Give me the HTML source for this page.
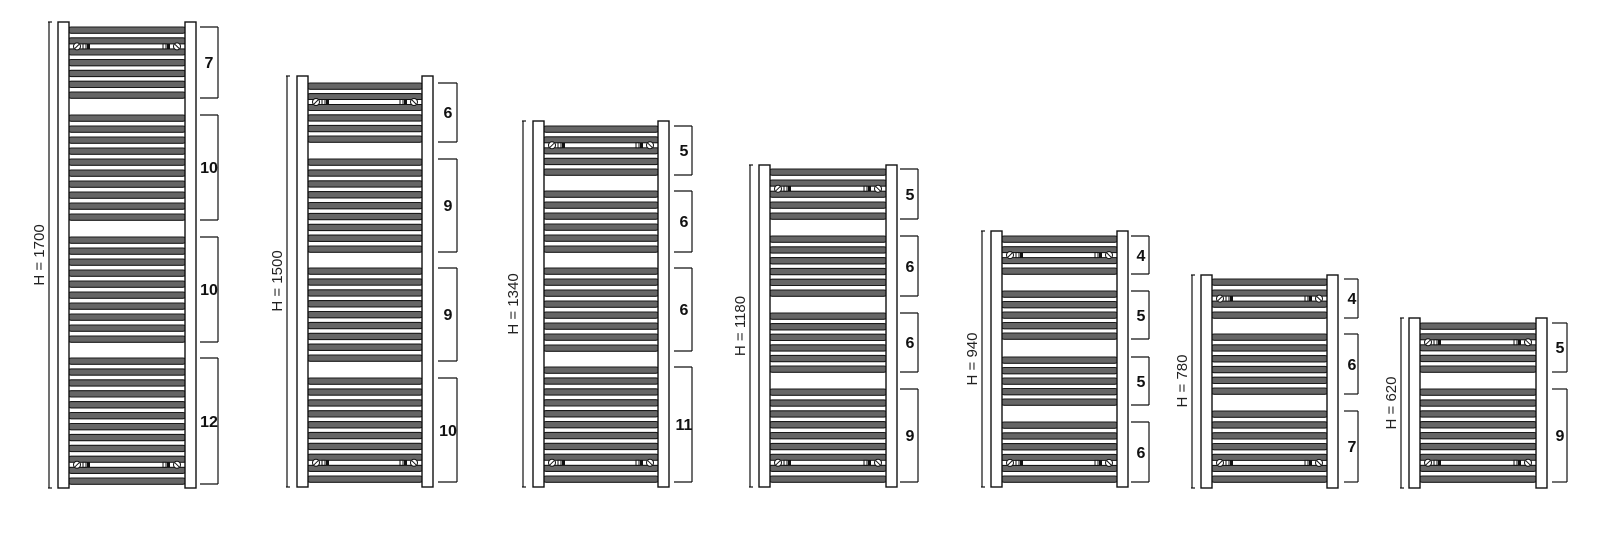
<!DOCTYPE html>
<html><head><meta charset="utf-8"><style>
html,body{margin:0;padding:0;background:#fff;}
svg{display:block;}
.n{font-family:"Liberation Sans",sans-serif;font-weight:bold;font-size:16px;fill:#111;text-anchor:middle;}
.h{font-family:"Liberation Sans",sans-serif;font-size:15px;fill:#222;text-anchor:middle;}
</style></head><body>
<svg id="s" width="1616" height="542" xmlns="http://www.w3.org/2000/svg">
<g id="shapes"></g>
<text class="n" x="209" y="68">7</text><text class="n" x="209" y="173">10</text><text class="n" x="209" y="295">10</text><text class="n" x="209" y="427">12</text>
<text class="h" transform="translate(39,255) rotate(-90)" y="5">H = 1700</text>
<text class="n" x="448" y="118">6</text><text class="n" x="448" y="211">9</text><text class="n" x="448" y="320">9</text><text class="n" x="448" y="436">10</text>
<text class="h" transform="translate(277,281) rotate(-90)" y="5">H = 1500</text>
<text class="n" x="684" y="156">5</text><text class="n" x="684" y="227">6</text><text class="n" x="684" y="315">6</text><text class="n" x="684" y="430">11</text>
<text class="h" transform="translate(740,326) rotate(-90)" y="5">H = 1180</text>
<text class="h" transform="translate(513,304) rotate(-90)" y="5">H = 1340</text>
<text class="n" x="910" y="200">5</text><text class="n" x="910" y="272">6</text><text class="n" x="910" y="348">6</text><text class="n" x="910" y="441">9</text>
<text class="n" x="1141" y="261">4</text><text class="n" x="1141" y="321">5</text><text class="n" x="1141" y="387">5</text><text class="n" x="1141" y="458">6</text>
<text class="h" transform="translate(972,359) rotate(-90)" y="5">H = 940</text>
<text class="n" x="1352" y="304">4</text><text class="n" x="1352" y="370">6</text><text class="n" x="1352" y="452">7</text>
<text class="h" transform="translate(1182,381) rotate(-90)" y="5">H = 780</text>
<text class="n" x="1560" y="353">5</text><text class="n" x="1560" y="441">9</text>
<text class="h" transform="translate(1391,403) rotate(-90)" y="5">H = 620</text>
</svg>
<script>
var R=[
{L:58,R:196,t:22,b:488,d:49,x1:200,x2:218,g:[[27,98],[115,220],[237,342],[358,484]]},
{L:297,R:433,t:76,b:487,d:287,x1:438,x2:457,g:[[83,142],[159,252],[268,361],[378,482]]},
{L:533,R:669,t:121,b:487,d:523,x1:674,x2:692,g:[[126,175],[191,252],[268,351],[367,482]]},
{L:759,R:897,t:165,b:487,d:750,x1:900,x2:918,g:[[169,219],[236,296],[313,372],[389,482]]},
{L:991,R:1128,t:231,b:487,d:982,x1:1131,x2:1149,g:[[236,274],[291,339],[357,405],[422,482]]},
{L:1201,R:1338,t:275,b:488,d:1192,x1:1344,x2:1358,g:[[279,318],[334,394],[411,482]]},
{L:1409,R:1547,t:318,b:488,d:1401,x1:1552,x2:1567,g:[[323,372],[389,482]]}];
var h='';
var BH=6.3;
function ln(a,b,c,d,w){h+='<line x1="'+a+'" y1="'+b+'" x2="'+c+'" y2="'+d+'" stroke="#111" stroke-width="'+(w||1.2)+'"/>';}
R.forEach(function(r){
 ln(r.d,r.t,r.d,r.b,1.2);ln(r.d-1,r.t,r.d+3,r.t);ln(r.d-1,r.b,r.d+3,r.b);
 var firstBars=null,lastBars=null;
 r.g.forEach(function(g,gi){
  var span=g[1]-g[0]-6,n=Math.round(span/11)+1,p=span/(n-1),ys=[];
  for(var i=0;i<n;i++){var y=g[0]+i*p;ys.push(y);
   h+='<rect x="'+(r.L+10)+'" y="'+y.toFixed(1)+'" width="'+(r.R-r.L-20)+'" height="'+BH+'" rx="3" fill="#666" stroke="#1a1a1a" stroke-width="1.1"/>';}
  if(gi==0)firstBars=ys;if(gi==r.g.length-1)lastBars=ys;
  ln(r.x1,g[0],r.x2,g[0]);ln(r.x1,g[1],r.x2,g[1]);ln(r.x2,g[0],r.x2,g[1]);
 });
 function valve(yc){
  h+='<rect x="'+(r.L+11)+'" y="'+(yc-2.5)+'" width="'+(r.R-r.L-22)+'" height="5" fill="#fff" stroke="#111" stroke-width="1"/>';
  [r.L+19,r.R-19].forEach(function(cx,k){
   h+='<circle cx="'+cx+'" cy="'+yc+'" r="3.5" fill="#fff" stroke="#111" stroke-width="1"/>';
   h+='<line x1="'+(cx-2)+'" y1="'+(yc+(k?-2:2))+'" x2="'+(cx+2)+'" y2="'+(yc+(k?2:-2))+'" stroke="#111" stroke-width="1"/>';
   var sx=k?r.R-33:r.L+25;
   h+='<rect x="'+sx+'" y="'+(yc-2.5)+'" width="3" height="5" fill="#fff" stroke="#111" stroke-width="1"/>';
   h+='<rect x="'+(sx+4)+'" y="'+(yc-2.5)+'" width="3" height="5" fill="#111"/>';
  });
 }
 valve(+((firstBars[1]+BH+firstBars[2])/2).toFixed(1));
 var m=lastBars.length;
 valve(+((lastBars[m-3]+BH+lastBars[m-2])/2).toFixed(1));
 h+='<rect x="'+r.L+'" y="'+r.t+'" width="11" height="'+(r.b-r.t)+'" fill="#fff" stroke="#111" stroke-width="1.4"/>';
 h+='<rect x="'+(r.R-11)+'" y="'+r.t+'" width="11" height="'+(r.b-r.t)+'" fill="#fff" stroke="#111" stroke-width="1.4"/>';
});
document.getElementById('shapes').innerHTML=h;
</script>
</body></html>
